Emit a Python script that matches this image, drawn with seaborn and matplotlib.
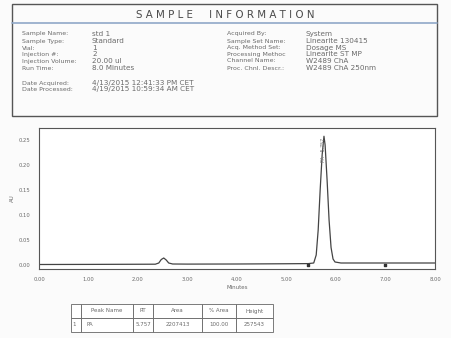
import seaborn as sns
import matplotlib.pyplot as plt
import pandas as pd
from matplotlib.ticker import MultipleLocator
from matplotlib.patches import Rectangle
from matplotlib.lines import Line2D

# chromatogram (minutes, AU)
minutes = [0.00, 1.00, 2.00, 2.35, 2.42, 2.47, 2.52, 2.57, 2.62, 2.70, 3.00, 4.00, 5.00,
           5.44, 5.55, 5.60, 5.64, 5.68, 5.72, 5.757, 5.78, 5.82, 5.86, 5.90, 5.94, 5.98,
           6.10, 7.00, 8.00]
au = [0.0010, 0.0012, 0.0015, 0.0016, 0.0040, 0.0110, 0.0140, 0.0100, 0.0040, 0.0020,
      0.0018, 0.0020, 0.0025, 0.0028, 0.0040, 0.0200, 0.0700, 0.1500, 0.2200, 0.2575,
      0.2400, 0.1700, 0.0900, 0.0350, 0.0120, 0.0060, 0.0040, 0.0040, 0.0040]
marker_min = [5.44, 6.99]
marker_au = [0.0000, 0.0010]

x_ticks = [0, 1, 2, 3, 4, 5, 6, 7, 8]
x_labels = ['0.00', '1.00', '2.00', '3.00', '4.00', '5.00', '6.00', '7.00', '8.00']
y_ticks = [0.00, 0.05, 0.10, 0.15, 0.20, 0.25]
y_labels = ['0.00', '0.05', '0.10', '0.15', '0.20', '0.25']

info_left = ['Sample Name:', 'Sample Type:', 'Vial:', 'Injection #:', 'Injection Volume:', 'Run Time:']
info_left_val = ['std 1', 'Standard', '1', '2', '20.00 ul', '8.0 Minutes']
info_dates = ['Date Acquired:', 'Date Processed:']
info_dates_val = ['4/13/2015 12:41:33 PM CET', '4/19/2015 10:59:34 AM CET']
info_right = ['Acquired By:', 'Sample Set Name:', 'Acq. Method Set:', 'Processing Methoc',
              'Channel Name:', 'Proc. Chnl. Descr.:']
info_right_val = ['System', 'Linearite 130415', 'Dosage MS', 'Linearite ST MP',
                  'W2489 ChA', 'W2489 ChA 250nm']

table_cols = ['', 'Peak Name', 'RT', 'Area', '% Area', 'Height']
table_row = ['1', 'PA', '5.757', '2207413', '100.00', '257543']

sns.set_style('white')
plt.rcParams['font.family'] = ['DejaVu Sans']
gray = '#6a6a6a'
W, H = 451, 338

fig = plt.figure(figsize=(4.51, 3.38), dpi=100)
fig.patch.set_facecolor('#fbfbfb')

# sample information box (pixel coords -> figure fraction)
def fx(px):
    return px / W

def fy(py):
    return 1 - py / H

fig.add_artist(Rectangle((fx(12), fy(116)), fx(425), (116 - 4) / H, transform=fig.transFigure,
                         fill=False, edgecolor='#555555', lw=1.0))
fig.add_artist(Line2D([fx(12), fx(437)], [fy(23), fy(23)], transform=fig.transFigure,
                      color='#8fa8c8', lw=1.2))
fig.text(fx(225), fy(15.5), 'S A M P L E     I N F O R M A T I O N', ha='center', va='center',
         fontsize=7.4, color='#4a4a4a')

rows_y = [34, 41, 48, 54.5, 61, 68]
lab_fs, val_fs = 4.5, 5.2
for i, y in enumerate(rows_y):
    fig.text(fx(22), fy(y), info_left[i], fontsize=lab_fs, color=gray, va='center')
    fig.text(fx(92), fy(y), info_left_val[i], fontsize=val_fs, color=gray, va='center')
    fig.text(fx(227), fy(y), info_right[i], fontsize=lab_fs, color=gray, va='center')
    fig.text(fx(306), fy(y), info_right_val[i], fontsize=val_fs, color=gray, va='center')
for i, y in enumerate([83, 89.5]):
    fig.text(fx(22), fy(y), info_dates[i], fontsize=lab_fs, color=gray, va='center')
    fig.text(fx(92), fy(y), info_dates_val[i], fontsize=val_fs, color=gray, va='center')

# chromatogram
ax = fig.add_axes([fx(39), fy(269), fx(435 - 39), (269 - 128) / H])
ax.set_facecolor('white')
df = pd.DataFrame({'Minutes': minutes, 'AU': au})
sns.lineplot(data=df, x='Minutes', y='AU', ax=ax, color='#444444', lw=0.9)
ax.scatter(marker_min, marker_au, marker='s', s=3, color='#333333', zorder=3)
ax.text(5.757, 0.255, 'PA - 5.757', rotation=90, ha='center', va='top', fontsize=3.4, color='#777777')

ax.set_xlim(0, 8)
ax.set_ylim(-0.008, 0.274)
ax.set_xticks(x_ticks)
ax.set_xticklabels(x_labels)
ax.set_yticks(y_ticks)
ax.set_yticklabels(y_labels)
ax.xaxis.set_minor_locator(MultipleLocator(0.2))
ax.yaxis.set_minor_locator(MultipleLocator(0.01))
ax.tick_params(which='both', direction='out', colors='#555555', labelcolor=gray, labelsize=3.8)
ax.tick_params(which='major', length=2.5, width=0.6)
ax.tick_params(which='minor', length=1.3, width=0.5)
ax.set_xlabel('Minutes', fontsize=4, color=gray, labelpad=2)
ax.set_ylabel('AU', fontsize=4, color=gray, labelpad=3)
for s in ax.spines.values():
    s.set_color('#555555')
    s.set_linewidth(0.8)

# peak table
tax = fig.add_axes([fx(71), fy(332), fx(273 - 71), 28 / H])
tax.axis('off')
tbl = tax.table(cellText=[table_row], colLabels=table_cols, bbox=[0, 0, 1, 1],
                colWidths=[10, 52, 20, 49, 34, 37], cellLoc='left')
tbl.auto_set_font_size(False)
tbl.set_fontsize(4)
for (r, c), cell in tbl.get_celld().items():
    cell.set_edgecolor('#666666')
    cell.set_linewidth(0.6)
    cell.get_text().set_color(gray)
    if c >= 2:
        cell.get_text().set_ha('center')

fig.savefig('out.png', dpi=100, facecolor=fig.get_facecolor())
